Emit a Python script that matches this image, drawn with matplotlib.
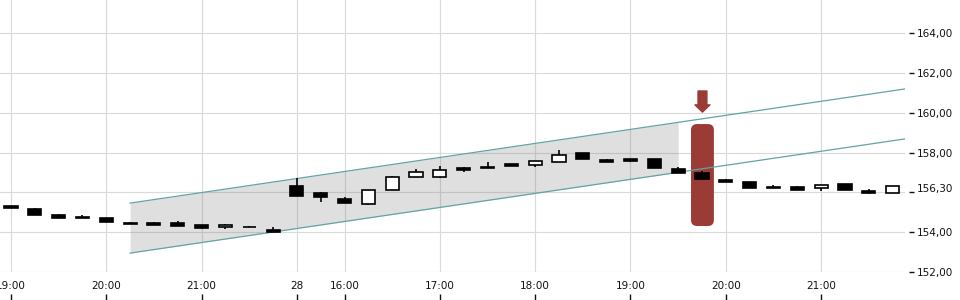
import matplotlib
matplotlib.use("Agg")
import matplotlib.pyplot as plt
import numpy as np
from matplotlib.patches import FancyBboxPatch, FancyArrowPatch
from matplotlib.transforms import IdentityTransform, ScaledTranslation

# ---- data (15-min candles) ----
opens = [155.31, 155.16, 154.86, 154.76, 154.71, 154.47, 154.46, 154.46, 154.36, 154.24,
         154.27, 154.11, 156.32, 155.97, 155.66, 155.43, 156.12, 156.79, 156.78, 157.21,
         157.27, 157.42, 157.36, 157.51, 157.96, 157.61, 157.66, 157.66, 157.17, 156.97,
         156.62, 156.52, 156.25, 156.25, 156.20, 156.42, 156.08, 155.95]
highs = [155.33, 155.21, 154.91, 154.86, 154.72, 154.51, 154.51, 154.56, 154.37, 154.41,
         154.32, 154.26, 156.72, 156.02, 155.75, 156.12, 156.82, 157.16, 157.32, 157.27,
         157.52, 157.42, 157.56, 158.12, 157.96, 157.67, 157.66, 157.66, 157.27, 157.09,
         156.67, 156.52, 156.37, 156.30, 156.37, 156.42, 156.17, 156.30]
lows = [155.20, 154.86, 154.71, 154.71, 154.52, 154.42, 154.37, 154.32, 154.17, 154.16,
        154.24, 154.01, 155.83, 155.53, 155.45, 155.38, 156.10, 156.79, 156.73, 157.03,
        157.20, 157.31, 157.26, 157.51, 157.66, 157.54, 157.51, 157.24, 156.98, 156.68,
        156.50, 156.23, 156.20, 156.10, 156.08, 156.10, 155.90, 155.95]
closes = [155.22, 154.86, 154.73, 154.71, 154.53, 154.42, 154.37, 154.32, 154.22, 154.36,
          154.24, 154.01, 155.83, 155.78, 155.48, 156.12, 156.77, 157.02, 157.12, 157.12,
          157.20, 157.31, 157.56, 157.86, 157.66, 157.54, 157.57, 157.24, 156.98, 156.68,
          156.50, 156.23, 156.20, 156.12, 156.37, 156.10, 155.97, 156.30]

x_label_pos = [0, 4, 8, 12, 14, 18, 22, 26, 30, 34]
x_labels = ["19:00", "20:00", "21:00", "28", "16:00", "17:00", "18:00", "19:00", "20:00", "21:00"]
y_ticks = [152, 154, 156, 158, 160, 162, 164]
y_tick_labels = ["152,00", "154,00", "156,30", "158,00", "160,00", "162,00", "164,00"]

# trend channel
channel_x = [5, 37.5]
channel_upper = [155.46, 161.19]
channel_lower = [152.95, 158.68]
channel_fill_end = 28

# highlight
hl_x0, hl_x1 = 28.54, 29.50
hl_y0, hl_y1 = 154.31, 159.43
arrow_x, arrow_top, arrow_bottom = 29.02, 161.09, 160.03

RED = "#9b3b36"
TEAL = "#62a3a8"

fig = plt.figure(figsize=(9.6, 3), dpi=100)
ax = fig.add_axes([0, 28 / 300, 905 / 960, 272 / 300])
ax.set_xlim(-0.46, 37.52)
ax.set_ylim(152, 165.66)
for s in ax.spines.values():
    s.set_visible(False)

ax.set_xticks(x_label_pos, x_labels)
ax.set_yticks(y_ticks)
ax.tick_params(axis="y", left=False, right=False, labelleft=False)
ax.tick_params(axis="x", length=0, pad=6.5, labelsize=7.5, colors="#111111")
ax.grid(True, color="#d9d9d9", linewidth=0.8, zorder=0)
ax.set_axisbelow(True)

# secondary axes for detached tick marks
secx = ax.secondary_xaxis(-22 / 272)
secx.set_xticks(x_label_pos)
secx.tick_params(axis="x", length=6, width=1, labelbottom=False, color="#111111")
for s in secx.spines.values():
    s.set_visible(False)

secy = ax.secondary_yaxis(1 + 4 / 905)
secy.set_yticks(y_ticks, y_tick_labels)
secy.tick_params(axis="y", length=3.6, width=1, pad=2.2, labelsize=7.5, color="#111111", labelcolor="#111111")
for s in secy.spines.values():
    s.set_visible(False)
# last-price label sits slightly above its grid line
for lbl in secy.get_yticklabels():
    if lbl.get_text() == "156,30":
        lbl.set_transform(lbl.get_transform() + ScaledTranslation(0, 4 / 100, fig.dpi_scale_trans))

# channel fill
fx = np.array([channel_x[0], channel_fill_end])
fu = np.interp(fx, channel_x, channel_upper)
fl = np.interp(fx, channel_x, channel_lower)
ax.fill_between(fx, fl, fu, color="gray", alpha=0.25, linewidth=0, zorder=1)

# highlight box (pixel space for proper rounded corners)
(px0, py0) = ax.transData.transform((hl_x0, hl_y0))
(px1, py1) = ax.transData.transform((hl_x1, hl_y1))
box = FancyBboxPatch((px0, py0), px1 - px0, py1 - py0,
                     boxstyle="round,pad=0,rounding_size=6",
                     transform=IdentityTransform(), facecolor=RED, edgecolor="none", zorder=2)
ax.add_patch(box)

arrow = FancyArrowPatch((arrow_x, arrow_top), (arrow_x, arrow_bottom),
                        arrowstyle="simple,head_width=10.8,head_length=5.2,tail_width=6.4",
                        mutation_scale=1, color=RED, shrinkA=0, shrinkB=0, zorder=3)
ax.add_patch(arrow)

# channel lines
ax.plot(channel_x, channel_upper, color=TEAL, linewidth=0.9, zorder=3)
ax.plot(channel_x, channel_lower, color=TEAL, linewidth=0.9, zorder=3)

# candles
idx = np.arange(len(opens))
ax.vlines(idx, lows, highs, color="black", linewidth=1.2, zorder=4)
for i, (o, h, l, c) in enumerate(zip(opens, highs, lows, closes)):
    up = c >= o
    bottom = min(o, c)
    height = max(abs(c - o), 0.02)
    ax.bar(i, height, bottom=bottom, width=0.55,
           facecolor="white" if up else "black", edgecolor="black",
           linewidth=1.2, zorder=5)

fig.savefig("out.png", dpi=100)
